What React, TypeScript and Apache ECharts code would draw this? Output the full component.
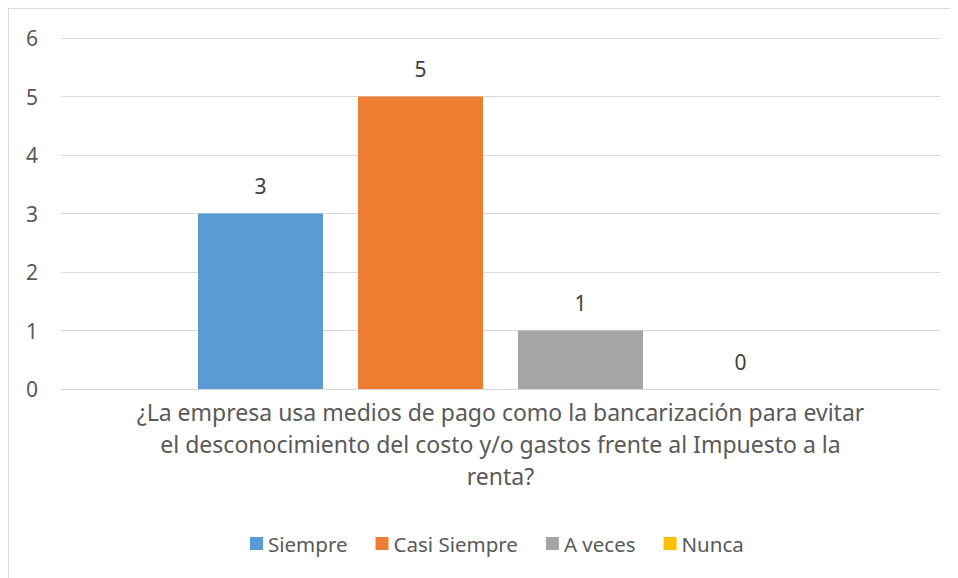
import React, { useEffect, useRef } from "react";
import * as echarts from "echarts";

const categories = [
  "¿La empresa usa medios de pago como la bancarización para evitar\nel desconocimiento del costo y/o gastos frente al Impuesto a la\nrenta?",
];
const seriesNames = ["Siempre", "Casi Siempre", "A veces", "Nunca"];
const seriesValues = [[3], [5], [1], [0]];
const seriesColors = ["#5B9BD5", "#ED7D31", "#A5A5A5", "#FFC000"];
const yTicks = { min: 0, max: 6, interval: 1 };

const FONT = "'Noto Sans', 'Open Sans', sans-serif";

export default function App() {
  const ref = useRef<HTMLDivElement>(null);
  useEffect(() => {
    if (!ref.current) return;
    const chart = echarts.init(ref.current, undefined, { renderer: "svg" });
    chart.setOption({
      animation: false,
      textStyle: { fontFamily: FONT },
      grid: { left: 52, right: 18, top: 29, bottom: 189, containLabel: false },
      legend: {
        data: seriesNames,
        bottom: 19,
        left: 236,
        itemWidth: 13,
        itemHeight: 13,
        itemGap: 28,
        icon: "rect",
        textStyle: { color: "#595959", fontSize: 20.5, fontFamily: FONT },
      },
      xAxis: {
        type: "category",
        data: categories,
        axisLine: { show: true, lineStyle: { color: "#D9D9D9", width: 1 } },
        axisTick: { show: false },
        axisLabel: {
          color: "#595959",
          fontSize: 23,
          lineHeight: 32,
          margin: 7,
          align: "center",
          fontFamily: FONT,
        },
      },
      yAxis: {
        type: "value",
        min: yTicks.min,
        max: yTicks.max,
        interval: yTicks.interval,
        axisLine: { show: false },
        axisTick: { show: false },
        splitLine: { lineStyle: { color: "#D9D9D9", width: 1 } },
        axisLabel: { color: "#595959", fontSize: 21, margin: 23, fontFamily: FONT },
      },
      series: seriesNames.map((name, i) => ({
        name,
        type: "bar",
        data: seriesValues[i],
        barWidth: 125,
        barGap: "28%",
        itemStyle: { color: seriesColors[i] },
        label: {
          show: true,
          position: "top",
          distance: 17,
          color: "#404040",
          fontSize: 21,
          fontFamily: FONT,
        },
      })),
    });
    return () => chart.dispose();
  }, []);
  return (
    <div
      style={{
        width: 950,
        height: 570,
        borderTop: "1px solid #D9D9D9",
        borderLeft: "1px solid #D9D9D9",
        boxSizing: "border-box",
        background: "#fff",
      }}
    >
      <div ref={ref} style={{ width: 949, height: 569 }} />
    </div>
  );
}
